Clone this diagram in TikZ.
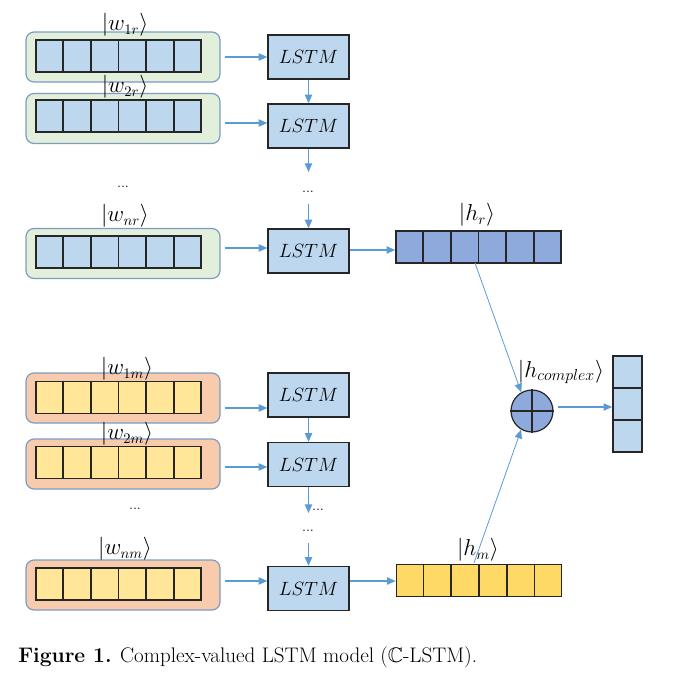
\documentclass[tikz,border=0pt]{standalone}
\usepackage{amssymb}
\usetikzlibrary{arrows.meta,calc}
\definecolor{cellblue}{HTML}{BDD7EE}
\definecolor{hrblue}{HTML}{8EA9DB}
\definecolor{cellyel}{HTML}{FFE699}
\definecolor{hmyel}{HTML}{FFD966}
\definecolor{grnbg}{HTML}{E2EFDA}
\definecolor{orgbg}{HTML}{F8CBAD}
\definecolor{bordblue}{HTML}{7C9CC4}
\definecolor{arrblue}{HTML}{5B9BD5}
\tikzset{
  px/.style={x=0.75pt,y=-0.75pt},
  grpbox/.style={draw=bordblue,line width=0.9pt,rounded corners=6pt,minimum width=145.5pt,minimum height=37.5pt,inner sep=0pt},
  cellrow/.style={draw=black!85,line width=1.2pt,minimum width=123.75pt,minimum height=24pt,inner sep=0pt},
  lstmbox/.style={draw=black!85,line width=1pt,fill=cellblue,minimum width=60.75pt,minimum height=33pt,inner sep=0pt,font=\fontsize{14}{16}\selectfont},
  lbl/.style={inner sep=0pt,font=\fontsize{16}{18}\selectfont},
  dots/.style={inner sep=0pt,font=\fontsize{11}{12}\selectfont},
  arr/.style={draw=arrblue,line width=0.9pt,-{Triangle[length=6.5pt,width=5.5pt]}},
  thinarr/.style={draw=arrblue,line width=0.6pt,-{Triangle[length=6.5pt,width=5.5pt]}},
}
\newcommand{\cellsplit}[1]{%
  \foreach \k in {1,...,5} {\draw[black!85,line width=1.2pt] ($(#1.north west)!\k/6!(#1.north east)$) -- ($(#1.south west)!\k/6!(#1.south east)$);}}
\begin{document}
\begin{tikzpicture}[px]
\useasboundingbox (0,0) rectangle (687,679);
% ---- real part group ----
\node[grpbox,fill=grnbg] (g1) at (123,57) {};
\node[cellrow,fill=cellblue] (c1) at (118.5,56) {}; \cellsplit{c1}
\node[lbl] (t1) at (125,25) {$|w_{1r}\rangle$};
\node[grpbox,fill=grnbg] (g2) at (123,118.5) {};
\node[cellrow,fill=cellblue] (c2) at (118.5,116) {}; \cellsplit{c2}
\node[lbl] (t2) at (125,87) {$|w_{2r}\rangle$};
\node[dots] (ld1) at (123,187) {...};
\node[grpbox,fill=grnbg] (g3) at (123,253.5) {};
\node[cellrow,fill=cellblue] (c3) at (118.5,252) {}; \cellsplit{c3}
\node[lbl] (t3) at (125,216) {$|w_{nr}\rangle$};

\node[lstmbox] (l1) at (308.5,57) {$LSTM$};
\node[lstmbox] (l2) at (308.5,126) {$LSTM$};
\node[dots] (md1) at (308,192) {...};
\node[lstmbox] (l3) at (308.5,251) {$LSTM$};
\coordinate (a2) at (308.5,172);
\coordinate (a3) at (308.5,204);

\draw[arr] ([xshift=3pt]g1.east) -- (g1.east -| l1.west);
\draw[arr] ([xshift=3pt]g2.east |- 0,123) -- (l2.west |- 0,123);
\draw[arr] ([xshift=3pt]g3.east |- 0,248) -- (l3.west |- 0,248);
\draw[arr] (l1.south) -- (l2.north);
\draw[arr] (l2.south) -- (a2);
\draw[arr] (a3) -- (l3.north);

\node[cellrow,fill=hrblue] (hr) at (478.5,247) {}; \cellsplit{hr}
\node[lbl] (thr) at (477,215) {$|h_{r}\rangle$};
\draw[arr] (l3.east |- 0,250) -- (hr.west |- 0,250);

% ---- imaginary part group ----
\node[grpbox,fill=orgbg] (g4) at (123,398) {};
\node[cellrow,fill=cellyel] (c4) at (118.5,397.5) {}; \cellsplit{c4}
\node[lbl] (t4) at (127,369) {$|w_{1m}\rangle$};
\node[grpbox,fill=orgbg] (g5) at (123,464) {};
\node[cellrow,fill=cellyel] (c5) at (118.5,462.5) {}; \cellsplit{c5}
\node[lbl] (t5) at (127,434) {$|w_{2m}\rangle$};
\node[dots] (ld2) at (135,509) {...};
\node[grpbox,fill=orgbg] (g6) at (123,585) {};
\node[cellrow,fill=cellyel] (c6) at (118.5,584) {}; \cellsplit{c6}
\node[lbl] (t6) at (125,549) {$|w_{nm}\rangle$};

\node[lstmbox] (l4) at (308.5,395) {$LSTM$};
\node[lstmbox] (l5) at (308.5,464.5) {$LSTM$};
\node[dots] (md2) at (318,510) {...};
\node[dots] (md3) at (308,531) {...};
\node[lstmbox] (l6) at (308.5,588.5) {$LSTM$};
\coordinate (b2) at (308.5,513);
\coordinate (b3) at (308.5,543);

\draw[arr] ([xshift=3pt]g4.east |- 0,408) -- (l4.west |- 0,408);
\draw[arr] ([xshift=3pt]g5.east |- 0,467) -- (l5.west |- 0,467);
\draw[arr] ([xshift=3pt]g6.east |- 0,581) -- (l6.west |- 0,581);
\draw[arr] (l4.south) -- (l5.north);
\draw[arr] (l5.south) -- (b2);
\draw[arr] (b3) -- (l6.north);

\node[cellrow,fill=hmyel] (hm) at (479,580.5) {}; \cellsplit{hm}
\node[lbl] (thm) at (478,550) {$|h_{m}\rangle$};
\draw[arr] (l6.east |- 0,581) -- (hm.west |- 0,581);

% ---- combination ----
\node[circle,draw=black!85,line width=0.9pt,fill=hrblue,minimum size=31.5pt,inner sep=0pt] (ox) at (532,411) {};
\draw[black!85,line width=0.9pt] (ox.north) -- (ox.south) (ox.west) -- (ox.east);
\node[lbl,font=\fontsize{17}{19}\selectfont] (thc) at (561,372) {$|h_{complex}\rangle$};
\coordinate (hrout) at (475,263);
\coordinate (hmout) at (474,563);
\draw[thinarr] (hrout) -- (ox.120);
\draw[thinarr] (hmout) -- (ox.240);

\node[draw=black!85,line width=1.2pt,fill=cellblue,minimum width=21.75pt,minimum height=72pt,inner sep=0pt] (out) at (627.5,404) {};
\draw[black!85,line width=1.2pt] ($(out.north west)!1/3!(out.south west)$) -- ($(out.north east)!1/3!(out.south east)$);
\draw[black!85,line width=1.2pt] ($(out.north west)!2/3!(out.south west)$) -- ($(out.north east)!2/3!(out.south east)$);
\draw[arr] ([xshift=3pt]ox.east |- 0,407) -- (out.west |- 0,407);

\node[anchor=west,inner sep=0pt,font=\fontsize{15.8}{18}\selectfont] (cap) at (18,657) {\textbf{Figure 1.} Complex-valued LSTM model ($\mathbb{C}$-LSTM).};
\end{tikzpicture}
\end{document}
